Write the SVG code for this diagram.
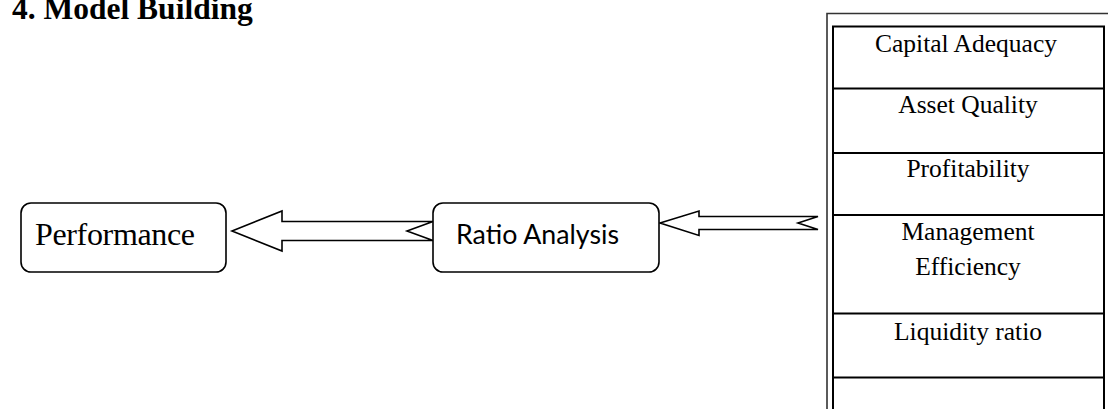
<svg xmlns="http://www.w3.org/2000/svg" width="1108" height="409" viewBox="0 0 1108 409">
<style>
.box{fill:#fff;stroke:#000;stroke-width:1.6}
.arrow{fill:#fff;stroke:#000;stroke-width:1.6;stroke-linejoin:miter}
.serif{font-family:"Liberation Serif","Times New Roman",serif;fill:#000}
.cell{font-family:"Liberation Serif","Times New Roman",serif;font-size:25.5px;fill:#000;text-anchor:middle}
.grid{stroke:#000;stroke-width:2;fill:none}
</style>
<rect width="1108" height="409" fill="#fff"/>
<text class="serif" x="12" y="19" font-size="31.5" font-weight="bold">4. Model Building</text>
<g id="connectors">
<path class="arrow" d="M232,231 L282,211 L282,221.5 L433,221.5 L407,231 L433,240.5 L282,240.5 L282,251 Z"/>
<path class="arrow" d="M660,223 L699,211 L699,216.5 L818,216.5 L798,223 L818,229.5 L699,229.5 L699,235.5 Z"/>
</g>
<g id="performance">
<rect class="box" x="21" y="203" width="205" height="69" rx="10"/>
<text class="serif" x="35" y="245" font-size="32" textLength="160">Performance</text>
</g>
<g id="ratio-analysis">
<rect class="box" x="433" y="203" width="226" height="69" rx="10"/>
<text x="456" y="244" font-family="Lato,'Open Sans',sans-serif" font-size="26" textLength="163" lengthAdjust="spacingAndGlyphs" fill="#000">Ratio Analysis</text>
</g>
<g id="camel-table">
<path d="M827,409 L827,13.5 L1108,13.5" fill="none" stroke="#333" stroke-width="1.6"/>
<path class="grid" d="M833,409 L833,26.5 L1104,26.5 L1104,409"/>
<line class="grid" x1="833" y1="88.5" x2="1104" y2="88.5"/>
<line class="grid" x1="833" y1="153" x2="1104" y2="153"/>
<line class="grid" x1="833" y1="215" x2="1104" y2="215"/>
<line class="grid" x1="833" y1="313.5" x2="1104" y2="313.5"/>
<line class="grid" x1="833" y1="377.5" x2="1104" y2="377.5"/>
<text class="cell" x="966" y="52">Capital Adequacy</text>
<text class="cell" x="968" y="113">Asset Quality</text>
<text class="cell" x="968" y="177">Profitability</text>
<text class="cell" x="968" y="240">Management</text>
<text class="cell" x="968" y="275">Efficiency</text>
<text class="cell" x="968" y="340">Liquidity ratio</text>
</g>
</svg>
